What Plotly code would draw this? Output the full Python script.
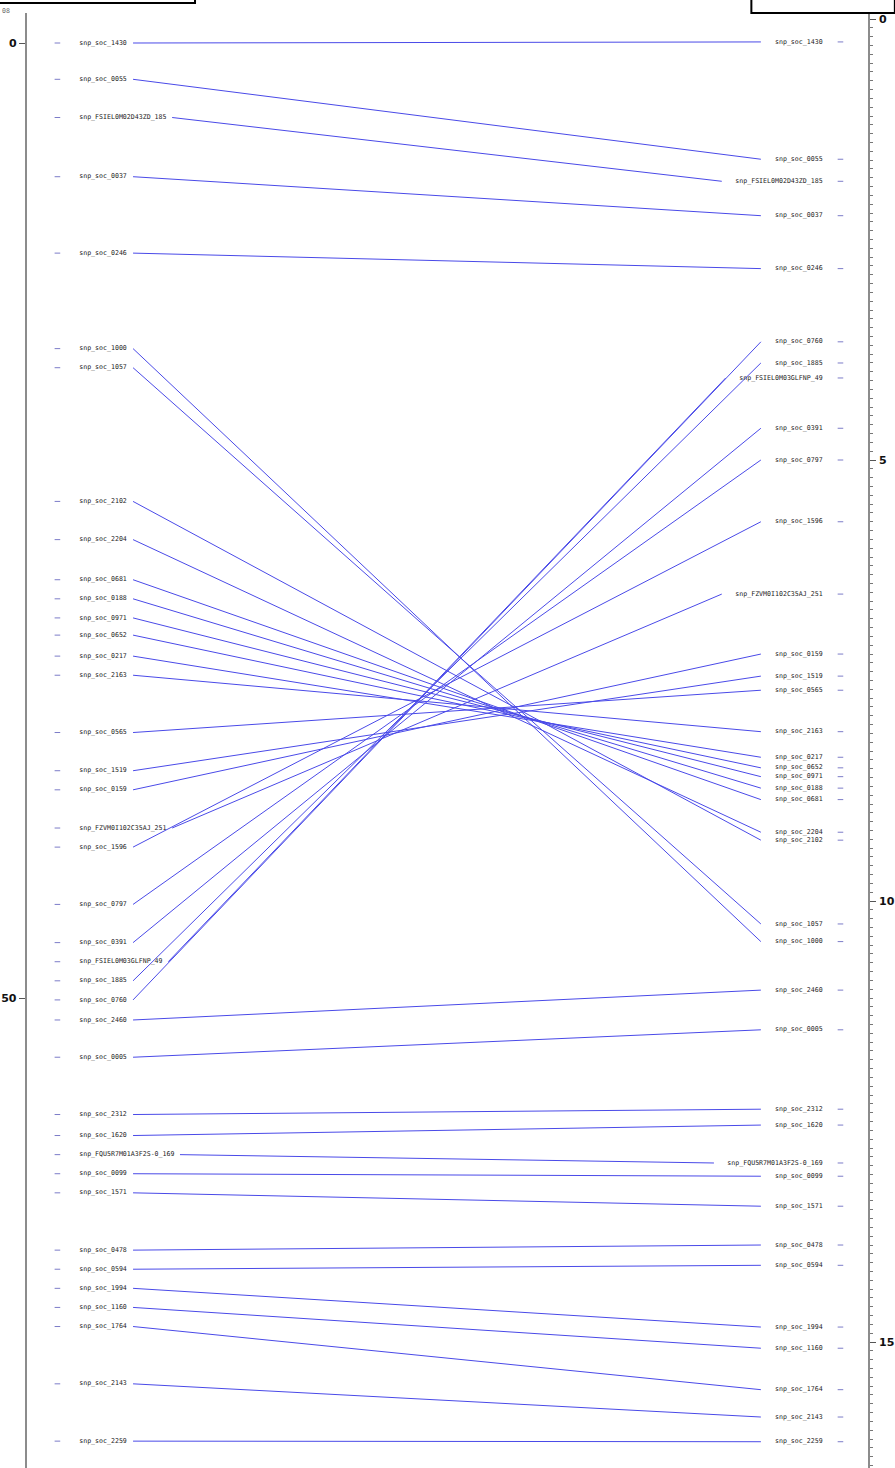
import plotly.graph_objects as go

# Marker names and their positions (cM) on the two linkage maps
left_markers = [
    "snp_soc_1430", "snp_soc_0055", "snp_FSIEL0M02D43ZD_185", "snp_soc_0037",
    "snp_soc_0246", "snp_soc_1000", "snp_soc_1057", "snp_soc_2102",
    "snp_soc_2204", "snp_soc_0681", "snp_soc_0188", "snp_soc_0971",
    "snp_soc_0652", "snp_soc_0217", "snp_soc_2163", "snp_soc_0565",
    "snp_soc_1519", "snp_soc_0159", "snp_FZVM0I102C35AJ_251", "snp_soc_1596",
    "snp_soc_0797", "snp_soc_0391", "snp_FSIEL0M03GLFNP_49", "snp_soc_1885",
    "snp_soc_0760", "snp_soc_2460", "snp_soc_0005", "snp_soc_2312",
    "snp_soc_1620", "snp_FQU5R7M01A3F2S-0_169", "snp_soc_0099", "snp_soc_1571",
    "snp_soc_0478", "snp_soc_0594", "snp_soc_1994", "snp_soc_1160",
    "snp_soc_1764", "snp_soc_2143", "snp_soc_2259",
]
left_pos = [
    0.0, 1.9, 3.9, 7.0, 11.0, 16.0, 17.0, 24.0, 26.0, 28.1, 29.1, 30.1, 31.0,
    32.1, 33.1, 36.1, 38.1, 39.1, 41.1, 42.1, 45.1, 47.1, 48.1, 49.1, 50.1,
    51.15, 53.1, 56.1, 57.2, 58.2, 59.2, 60.2, 63.2, 64.2, 65.2, 66.2, 67.2,
    70.2, 73.2,
]

right_markers = [
    "snp_soc_1430", "snp_soc_0055", "snp_FSIEL0M02D43ZD_185", "snp_soc_0037",
    "snp_soc_0246", "snp_soc_0760", "snp_soc_1885", "snp_FSIEL0M03GLFNP_49",
    "snp_soc_0391", "snp_soc_0797", "snp_soc_1596", "snp_FZVM0I102C35AJ_251",
    "snp_soc_0159", "snp_soc_1519", "snp_soc_0565", "snp_soc_2163",
    "snp_soc_0217", "snp_soc_0652", "snp_soc_0971", "snp_soc_0188",
    "snp_soc_0681", "snp_soc_2204", "snp_soc_2102", "snp_soc_1057",
    "snp_soc_1000", "snp_soc_2460", "snp_soc_0005", "snp_soc_2312",
    "snp_soc_1620", "snp_FQU5R7M01A3F2S-0_169", "snp_soc_0099", "snp_soc_1571",
    "snp_soc_0478", "snp_soc_0594", "snp_soc_1994", "snp_soc_1160",
    "snp_soc_1764", "snp_soc_2143", "snp_soc_2259",
]
right_pos = [
    0.26, 1.59, 1.84, 2.23, 2.83, 3.66, 3.90, 4.07, 4.64, 5.00, 5.70, 6.52,
    7.20, 7.45, 7.61, 8.08, 8.37, 8.49, 8.59, 8.72, 8.85, 9.22, 9.31, 10.26,
    10.46, 11.01, 11.46, 12.36, 12.54, 12.97, 13.12, 13.46, 13.90, 14.13,
    14.83, 15.07, 15.54, 15.85, 16.13,
]

left_ticks = [0, 50]
right_ticks = [0, 5, 10, 15]

# Layout geometry (pixels)
W, H = 895, 1468
AXIS_TOP = 13
LEFT_AXIS_X, RIGHT_AXIS_X = 26, 878
LEFT_DASH_X, RIGHT_DASH_X = 58, 849
LEFT_TEXT_START, RIGHT_TEXT_END = 80, 823
TEXT_PAD = 8            # offset plotly puts between anchor and text
CHAR_W, GAP = 3.95, 7

# Axis ranges (reversed: map start at top)
L_RANGE = [74.607, -1.571]
R_RANGE = [16.428, -0.068]

LINE_COLOR = "#4a4ae8"
LABEL_COLOR = "#1e1e1e"
AXIS_COLOR = "#8c8c8c"
DASH_COLOR = "#7c7cc8"


def right_to_left(v):
    """Express a right-map position in left-axis units (same pixel row)."""
    return L_RANGE[1] + (v - R_RANGE[1]) * (L_RANGE[0] - L_RANGE[1]) / (R_RANGE[0] - R_RANGE[1])


right_lookup = dict(zip(right_markers, right_pos))

# Connecting lines between shared markers
lx, ly = [], []
for name, lp in zip(left_markers, left_pos):
    if name not in right_lookup:
        continue
    x0 = LEFT_TEXT_START + CHAR_W * len(name) + GAP
    x1 = RIGHT_TEXT_END - CHAR_W * len(name) - GAP
    lx += [x0, x1, None]
    ly += [lp, right_to_left(right_lookup[name]), None]

fig = go.Figure()

fig.add_trace(go.Scatter(
    x=lx, y=ly, mode="lines", line=dict(color=LINE_COLOR, width=1),
    hoverinfo="skip", xaxis="x", yaxis="y",
))

label_font = dict(family="DejaVu Sans Mono", size=6.6, color=LABEL_COLOR)
dash_marker = dict(symbol="line-ew", size=4, line=dict(color=DASH_COLOR, width=1))

# Left map: position dashes and labels
fig.add_trace(go.Scatter(
    x=[LEFT_DASH_X] * len(left_pos), y=left_pos, mode="markers",
    marker=dash_marker, hoverinfo="skip", xaxis="x", yaxis="y",
))
fig.add_trace(go.Scatter(
    x=[LEFT_TEXT_START] * len(left_pos), y=left_pos, mode="text",
    text=left_markers, textposition="middle right", textfont=label_font,
    hoverinfo="skip", xaxis="x", yaxis="y",
))

# Right map: position dashes and labels
fig.add_trace(go.Scatter(
    x=[RIGHT_DASH_X] * len(right_pos), y=right_pos, mode="markers",
    marker=dash_marker, hoverinfo="skip", xaxis="x", yaxis="y2",
))
fig.add_trace(go.Scatter(
    x=[RIGHT_TEXT_END + TEXT_PAD] * len(right_pos), y=right_pos, mode="text",
    text=right_markers, textposition="middle left", textfont=label_font,
    hoverinfo="skip", xaxis="x", yaxis="y2",
))

dom_top = (H - AXIS_TOP) / H
tick_font = dict(family="DejaVu Sans", size=11, color="#111111", weight="bold")

fig.update_layout(
    width=W, height=H,
    margin=dict(l=0, r=0, t=0, b=0),
    paper_bgcolor="white", plot_bgcolor="white",
    showlegend=False,
    xaxis=dict(range=[0, W], domain=[0, 1], visible=False, fixedrange=True),
    yaxis=dict(
        range=L_RANGE, domain=[0, dom_top], anchor="free",
        position=LEFT_AXIS_X / W, side="left",
        showline=True, linecolor=AXIS_COLOR, linewidth=2,
        showgrid=False, zeroline=False,
        tickmode="array", tickvals=left_ticks,
        ticks="outside", ticklen=6, tickwidth=1, tickcolor="#555555",
        tickfont=tick_font, ticklabelstandoff=0,
    ),
    yaxis2=dict(
        range=R_RANGE, domain=[0, dom_top], anchor="free", overlaying="y",
        position=RIGHT_AXIS_X / W, side="right",
        showline=True, linecolor=AXIS_COLOR, linewidth=1.5,
        showgrid=False, zeroline=False,
        tickmode="array", tickvals=right_ticks,
        ticks="outside", ticklen=6, tickwidth=1, tickcolor="#555555",
        tickfont=tick_font, ticklabelstandoff=1,
        minor=dict(dtick=0.1, tick0=0, ticks="outside", ticklen=3,
                   tickwidth=1, tickcolor="#777777", showgrid=False),
    ),
)

# Title frames at the top edge
fig.add_shape(type="rect", xref="paper", yref="paper",
              x0=-0.01, x1=197 / W, y0=1 - 3 / H, y1=1.01,
              line=dict(color="black", width=2), fillcolor="rgba(0,0,0,0)")
fig.add_shape(type="rect", xref="paper", yref="paper",
              x0=759 / W, x1=1.01, y0=1 - 13 / H, y1=1.01,
              line=dict(color="black", width=2), fillcolor="rgba(0,0,0,0)")
fig.add_annotation(xref="paper", yref="paper", x=0, y=1 - 5 / H,
                   xanchor="left", yanchor="top", showarrow=False,
                   text="08", font=dict(family="DejaVu Sans Mono", size=6.6,
                                        color="#666666"))

fig.write_html("out.html")
